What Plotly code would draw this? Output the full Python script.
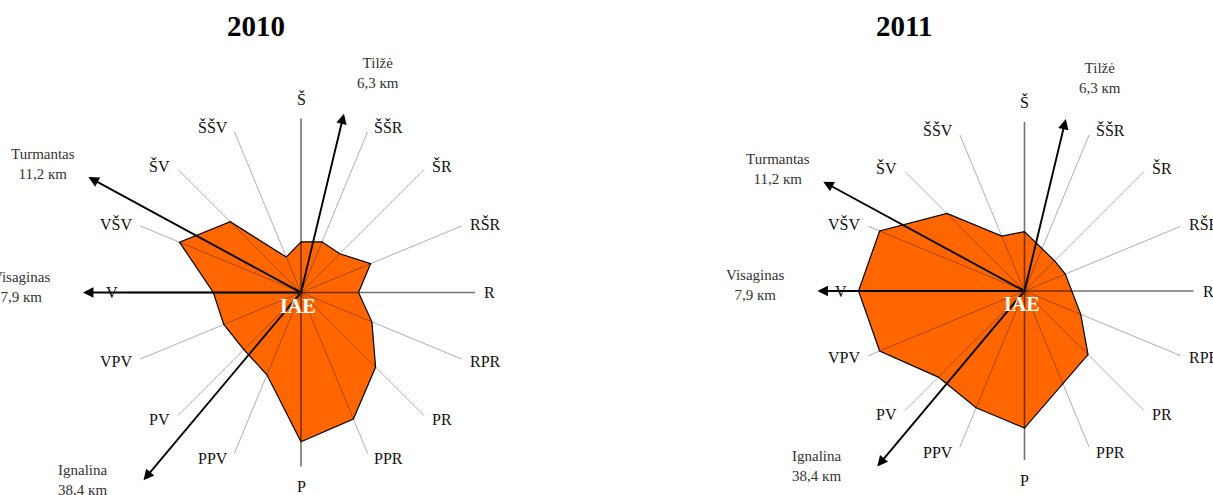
import math
import plotly.graph_objects as go

# ---------------- data ----------------
DIRECTIONS = ["Š", "ŠŠR", "ŠR", "RŠR", "R", "RPR", "PR", "PPR",
              "P", "PPV", "PV", "VPV", "V", "VŠV", "ŠV", "ŠŠV"]
FREQ_2010 = [3.7, 4.0, 4.0, 5.5, 4.2, 5.6, 7.7, 10.0, 10.9, 6.5, 5.9, 6.1, 6.4, 9.6, 7.3, 2.8]
FREQ_2011 = [3.9, 3.0, 2.8, 2.9, 3.1, 4.0, 5.9, 6.6, 9.0, 8.3, 8.0, 10.3, 10.9, 10.3, 7.2, 3.9]
YEARS = ["2010", "2011"]
TOWNS = ["Tilžė", "Turmantas", "Visaginas", "Ignalina"]
TOWN_DIST_KM = [6.3, 11.2, 7.9, 38.4]
TOWN_BEARING = [13.5, 298.5, 270, 220]
CENTER_LABEL = "IAE"

# ---------------- style / layout ----------------
W, H = 1213, 495
SERIF = "Liberation Serif"
FILL = "#FF6600"
PANELS = [
    dict(year=YEARS[0], freq=FREQ_2010, rmax=12.7, px_radius=174, cx=301, cy=292.5,
         xdom=[0, 0.5], arrow_len=[1.057, 1.39, 1.253, 1.408], title_x=256),
    dict(year=YEARS[1], freq=FREQ_2011, rmax=11.1, px_radius=169, cx=1024.5, cy=291,
         xdom=[0.5, 1], arrow_len=[1.047, 1.355, 1.225, 1.355], title_x=904),
]
# pixel offset of each town label centre from its arrow tip (x right, y up)
TOWN_LABEL_SHIFT = [(34, 41), (-45, 13), (-62, 6), (-61, 0)]

step = 360 / len(DIRECTIONS)
bearings = [i * step for i in range(len(DIRECTIONS))]
major = {"Š", "R", "P", "V"}


def to_xy(r, b):
    a = math.radians(b)
    return r * math.sin(a), r * math.cos(a)


def dir_label_style(b):
    a = math.radians(b)
    if b == 0:
        return dict(xanchor="center", yanchor="middle", xshift=0, yshift=20)
    if b == 180:
        return dict(xanchor="center", yanchor="middle", xshift=0, yshift=-20)
    gap = 3 + 4 * abs(math.sin(a))
    return dict(xanchor="left" if b < 180 else "right", yanchor="middle",
                xshift=gap if b < 180 else -gap, yshift=5.5 * math.cos(a))


fig = go.Figure()
annotations = []
for k, p in enumerate(PANELS):
    xa, ya = ("x", "y") if k == 0 else (f"x{k + 1}", f"y{k + 1}")
    R = p["rmax"]
    s = p["px_radius"] / R          # pixels per data unit
    xr = [(p["xdom"][0] * W - p["cx"]) / s, (p["xdom"][1] * W - p["cx"]) / s]
    yr = [-(H - p["cy"]) / s, p["cy"] / s]

    # filled wind rose
    pts = [to_xy(r, b) for r, b in zip(p["freq"], bearings)]
    pts.append(pts[0])
    fig.add_trace(go.Scatter(
        x=[q[0] for q in pts], y=[q[1] for q in pts], mode="lines",
        fill="toself", fillcolor=FILL, line=dict(color="black", width=1.2),
        xaxis=xa, yaxis=ya, hoverinfo="skip", showlegend=False))

    # spokes
    for is_major, col, w in [(False, "rgba(0,0,0,0.32)", 1.0), (True, "rgba(0,0,0,0.55)", 1.6)]:
        xs, ys = [], []
        for d, b in zip(DIRECTIONS, bearings):
            if (d in major) == is_major:
                ex, ey = to_xy(R, b)
                xs += [0, ex, None]
                ys += [0, ey, None]
        fig.add_trace(go.Scatter(
            x=xs, y=ys, mode="lines", line=dict(color=col, width=w),
            xaxis=xa, yaxis=ya, hoverinfo="skip", showlegend=False))

    # direction labels
    for d, b in zip(DIRECTIONS, bearings):
        ex, ey = to_xy(R, b)
        annotations.append(dict(
            x=ex, y=ey, xref=xa, yref=ya, text=d, showarrow=False,
            font=dict(family=SERIF, size=16, color="#111"), **dir_label_style(b)))

    # arrows to towns with labels
    for name, dist, b, f, (sx, sy) in zip(TOWNS, TOWN_DIST_KM, TOWN_BEARING,
                                           p["arrow_len"], TOWN_LABEL_SHIFT):
        tx, ty = to_xy(R * f, b)
        annotations.append(dict(
            x=tx, y=ty, ax=0, ay=0, xref=xa, yref=ya, axref=xa, ayref=ya,
            text="", showarrow=True, arrowhead=2, arrowsize=1.1, arrowwidth=1.9,
            arrowcolor="black", standoff=0, startstandoff=0))
        annotations.append(dict(
            x=tx, y=ty, xref=xa, yref=ya, showarrow=False,
            text=f"{name}<br>{str(dist).replace('.', ',')} кm", align="center",
            xanchor="center", yanchor="middle", xshift=sx, yshift=sy,
            font=dict(family=SERIF, size=15, color="#333")))

    # centre label
    annotations.append(dict(
        x=0, y=0, xref=xa, yref=ya, text=f"<b>{CENTER_LABEL}</b>", showarrow=False,
        xanchor="center", yanchor="middle", xshift=-3, yshift=-13,
        font=dict(family=SERIF, size=20, color="white")))

    axis_common = dict(visible=False, showgrid=False, zeroline=False, fixedrange=True)
    fig.update_layout(**{
        ("xaxis" if k == 0 else f"xaxis{k + 1}"): dict(domain=p["xdom"], range=xr, anchor=ya, **axis_common),
        ("yaxis" if k == 0 else f"yaxis{k + 1}"): dict(domain=[0, 1], range=yr, anchor=xa, **axis_common),
    })
    annotations.append(dict(
        text=f"<b>{p['year']}</b>", x=p["title_x"] / W, y=1 - 25.5 / H,
        xref="paper", yref="paper", xanchor="center", yanchor="middle", showarrow=False,
        font=dict(family=SERIF, size=29, color="black")))

fig.update_layout(
    width=W, height=H, margin=dict(l=0, r=0, t=0, b=0),
    paper_bgcolor="white", plot_bgcolor="rgba(0,0,0,0)",
    annotations=annotations, showlegend=False)

fig.write_html("out.html", config={"displayModeBar": False},
               post_script="document.body.style.margin='0px';")
